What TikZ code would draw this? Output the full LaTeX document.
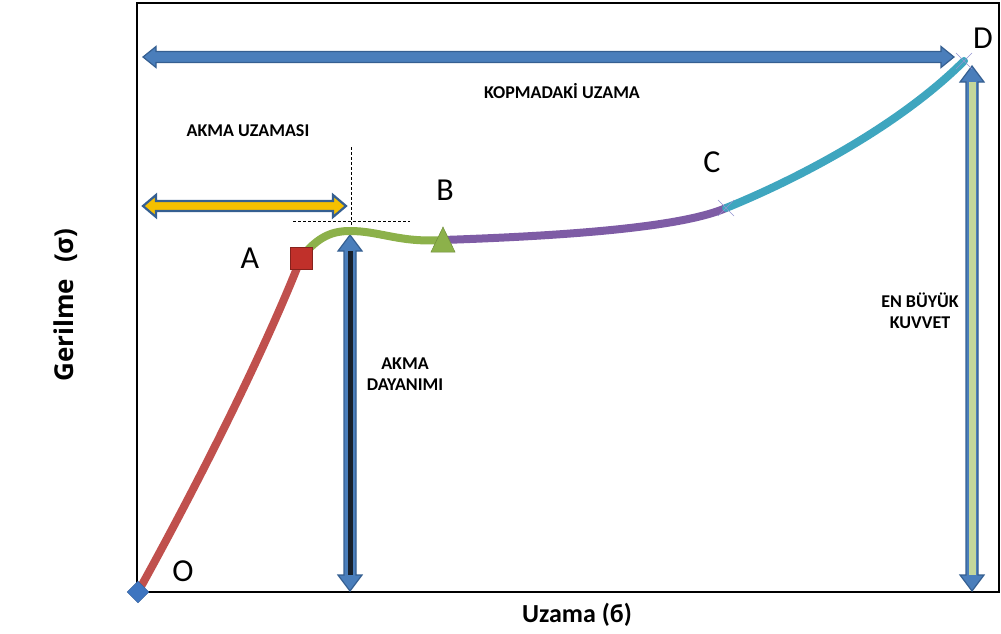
\documentclass[tikz,border=0pt]{standalone}
\usepackage{fontspec}
\setmainfont{Carlito}
\newfontfamily\axisfont{Open Sans}
\usetikzlibrary{shapes.geometric}
\definecolor{arrblue}{HTML}{4A7EBB}
\definecolor{arrline}{HTML}{355F91}
\definecolor{yel}{HTML}{F5C000}
\definecolor{lgreen}{HTML}{C4D79B}
\definecolor{darkin}{HTML}{17202B}
\definecolor{cred}{HTML}{C0504D}
\definecolor{cgreen}{HTML}{8CB14A}
\definecolor{cpurple}{HTML}{7E5CA5}
\definecolor{ccyan}{HTML}{3FA6BF}
\definecolor{mred}{HTML}{C0302A}
\definecolor{mblue}{HTML}{3E75C0}
\tikzset{
  curveseg/.style={line width=8pt, line cap=round},
  lbl/.style={font=\bfseries\fontsize{18}{21}\selectfont, align=center, inner sep=0pt},
  ptlbl/.style={font=\fontsize{32}{34}\selectfont, inner sep=0pt},
  xlbl/.style={font=\bfseries\fontsize{26}{30}\selectfont, inner sep=0pt},
  ylbl/.style={font=\axisfont\bfseries\fontsize{26}{30}\selectfont, inner sep=0pt},
  guide/.style={dashed, line width=0.8pt, dash pattern=on 3pt off 2pt},
  xmark/.style={draw=gray!60!blue!60, line width=0.6pt}
}
% horizontal double arrow: #1 x1, #2 x2, #3 y, #4 half body, #5 half head, #6 head length, #7 style
\newcommand{\hdarrow}[7]{%
  \filldraw[#7] (#1,#3) -- (#1+#6,#3-#5) -- (#1+#6,#3-#4) -- (#2-#6,#3-#4) -- (#2-#6,#3-#5) -- (#2,#3)
    -- (#2-#6,#3+#5) -- (#2-#6,#3+#4) -- (#1+#6,#3+#4) -- (#1+#6,#3+#5) -- cycle;}
% vertical double arrow: #1 y1, #2 y2, #3 x
\newcommand{\vdarrow}[7]{%
  \filldraw[#7] (#3,#1) -- (#3-#5,#1+#6) -- (#3-#4,#1+#6) -- (#3-#4,#2-#6) -- (#3-#5,#2-#6) -- (#3,#2)
    -- (#3+#5,#2-#6) -- (#3+#4,#2-#6) -- (#3+#4,#1+#6) -- (#3+#5,#1+#6) -- cycle;}
\begin{document}
\begin{tikzpicture}[x=1pt,y=-1pt]
\useasboundingbox (0,0) rectangle (1001,634);
% frame
\draw[line width=2pt] (137,3) -- (999,3) -- (999,592) -- (137,592) -- cycle;
% guides
\draw[guide] (351,147) -- (351,232);
\draw[guide] (293,221) -- (410,221);
% arrows
\hdarrow{143}{954}{57}{5.5}{10.5}{13}{fill=arrblue, draw=arrline, line width=1.2pt}
\hdarrow{143}{346}{206}{5}{11}{13}{fill=yel, draw=arrline, line width=2.2pt}
\vdarrow{235}{591}{350}{6}{12}{16}{fill=arrblue, draw=arrline, line width=1.2pt}
\fill[darkin] (347.5,251) rectangle (352.5,575);
\vdarrow{66}{591}{972}{6}{12}{16}{fill=arrblue, draw=arrline, line width=1.2pt}
\fill[lgreen] (968.5,82) rectangle (975.5,575);
% points
\coordinate (O) at (138,592);
\coordinate (A) at (301,258);
\coordinate (P) at (350,231);
\coordinate (B) at (443,240);
\coordinate (C) at (726,208);
\coordinate (D) at (964,61);
% curves
\draw[curveseg, cred] (O) .. controls (200,480) and (265,350) .. (A);
\draw[curveseg, cgreen] (A) .. controls (318,236) and (333,231) .. (P) .. controls (380,231) and (400,243) .. (B);
\draw[curveseg, cpurple] (B) .. controls (560,236) and (680,228) .. (C);
\draw[curveseg, ccyan] (C) .. controls (800,178) and (900,125) .. (D);
% markers
\node[draw=mred!70!black, fill=mred, minimum size=22pt, inner sep=0pt, line width=0.6pt] (Am) at (A) {};
\filldraw[fill=cgreen, draw=cgreen!80!black, line width=0.5pt] (431,252) -- (455,252) -- (443,227) -- cycle;
\node[fill=mblue, draw=mblue!80!black, diamond, minimum size=22pt, inner sep=0pt] (Om) at (O) {};
\draw[xmark] ([shift={(-8,-8)}]C) -- ([shift={(8,8)}]C) ([shift={(-8,8)}]C) -- ([shift={(8,-8)}]C);
\draw[xmark] ([shift={(-8,-8)}]D) -- ([shift={(8,8)}]D) ([shift={(-8,8)}]D) -- ([shift={(8,-8)}]D);
% point labels
\node[ptlbl] (lA) at (250,258) {A};
\node[ptlbl] (lB) at (445,190) {B};
\node[ptlbl] (lC) at (712,162) {C};
\node[ptlbl] (lD) at (983,38) {D};
\node[ptlbl] (lO) at (183,571) {O};
% text labels
\node[lbl] (t1) at (562,91) {KOPMADAKİ UZAMA};
\node[lbl] (t2) at (248,131) {AKMA UZAMASI};
\node[lbl] (t3) at (405,374) {AKMA\\DAYANIMI};
\node[lbl] (t4) at (920,311) {EN BÜYÜK\\KUVVET};
% axis labels
\node[xlbl, anchor=base] (xl) at (577,622) {Uzama (б)};
\node[ylbl, rotate=90, anchor=base] (yl) at (73,305) {Gerilme\hspace{16pt}(σ)};
\end{tikzpicture}
\end{document}
